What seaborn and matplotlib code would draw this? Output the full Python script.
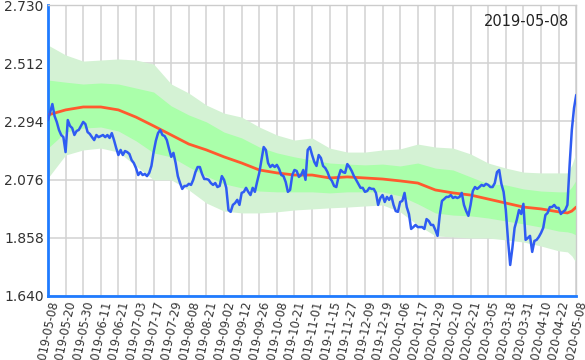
import pandas as pd
import seaborn as sns
from matplotlib import pyplot as plt

# x tick labels, one every 8 trading days
tick_labels = ['2019-05-08', '2019-05-20', '2019-05-30', '2019-06-11', '2019-06-21', '2019-07-03',
               '2019-07-17', '2019-07-29', '2019-08-08', '2019-08-21', '2019-09-02', '2019-09-12',
               '2019-09-26', '2019-10-08', '2019-10-21', '2019-11-01', '2019-11-15', '2019-11-27',
               '2019-12-09', '2019-12-19', '2020-01-06', '2020-01-17', '2020-01-29', '2020-02-10',
               '2020-02-21', '2020-03-05', '2020-03-18', '2020-03-31', '2020-04-10', '2020-04-22',
               '2020-05-08']

# daily value (blue line)
price = [2.299, 2.329, 2.359, 2.314, 2.292, 2.262, 2.243, 2.235, 2.179, 2.299,
         2.277, 2.269, 2.243, 2.258, 2.262, 2.277, 2.292, 2.284, 2.254, 2.247,
         2.235, 2.224, 2.243, 2.235, 2.239, 2.243, 2.235, 2.243, 2.232, 2.250,
         2.224, 2.194, 2.168, 2.187, 2.168, 2.183, 2.179, 2.172, 2.149, 2.138,
         2.119, 2.093, 2.104, 2.093, 2.097, 2.089, 2.101, 2.127, 2.179, 2.221,
         2.250, 2.262, 2.243, 2.239, 2.224, 2.191, 2.161, 2.176, 2.138, 2.089,
         2.063, 2.041, 2.052, 2.052, 2.060, 2.056, 2.075, 2.104, 2.123, 2.123,
         2.097, 2.078, 2.078, 2.075, 2.063, 2.056, 2.063, 2.048, 2.052, 2.089,
         2.075, 2.045, 1.962, 1.955, 1.981, 1.988, 2.000, 1.981, 2.026, 2.030,
         2.045, 2.030, 2.018, 2.045, 2.030, 2.067, 2.101, 2.149, 2.198, 2.187,
         2.138, 2.123, 2.131, 2.123, 2.131, 2.116, 2.093, 2.089, 2.067, 2.030,
         2.037, 2.093, 2.112, 2.108, 2.086, 2.093, 2.112, 2.075, 2.187, 2.198,
         2.168, 2.142, 2.127, 2.168, 2.157, 2.127, 2.119, 2.104, 2.082, 2.071,
         2.052, 2.048, 2.086, 2.112, 2.104, 2.101, 2.134, 2.123, 2.108, 2.089,
         2.075, 2.060, 2.045, 2.045, 2.030, 2.033, 2.045, 2.041, 2.041, 2.026,
         1.981, 2.007, 2.018, 1.992, 2.011, 2.000, 2.015, 1.981, 1.958, 1.955,
         1.992, 1.996, 2.026, 1.973, 1.947, 1.891, 1.898, 1.906, 1.898, 1.898,
         1.898, 1.891, 1.928, 1.921, 1.906, 1.906, 1.887, 1.865, 1.943, 1.996,
         2.003, 2.011, 2.011, 2.018, 2.007, 2.011, 2.007, 2.011, 2.026, 1.981,
         1.958, 1.940, 1.981, 2.033, 2.048, 2.041, 2.048, 2.056, 2.052, 2.060,
         2.056, 2.048, 2.048, 2.063, 2.104, 2.112, 2.060, 2.030, 1.962, 1.850,
         1.756, 1.820, 1.895, 1.925, 1.962, 1.947, 1.985, 1.850, 1.857, 1.865,
         1.805, 1.846, 1.850, 1.861, 1.876, 1.895, 1.943, 1.951, 1.973, 1.973,
         1.981, 1.970, 1.970, 1.947, 1.955, 1.962, 1.981, 2.131, 2.262, 2.344, 2.393]

# moving average and bands, read at these day positions
band_idx = [0, 8, 16, 24, 32, 40, 48, 56, 64, 72, 80, 88, 96, 104, 112, 120, 128, 136,
            144, 152, 160, 168, 176, 184, 192, 200, 208, 216, 224, 232, 236, 238, 240]
ma = [2.318, 2.337, 2.348, 2.348, 2.337, 2.310, 2.277, 2.243, 2.209, 2.187, 2.161,
      2.138, 2.112, 2.101, 2.093, 2.093, 2.082, 2.086, 2.082, 2.078, 2.071, 2.063,
      2.037, 2.026, 2.018, 2.003, 1.988, 1.973, 1.966, 1.955, 1.951, 1.958, 1.973]
outer_hi = [2.580, 2.543, 2.520, 2.524, 2.528, 2.524, 2.509, 2.434, 2.400, 2.355, 2.325,
            2.310, 2.273, 2.243, 2.224, 2.232, 2.194, 2.179, 2.179, 2.187, 2.191, 2.209,
            2.198, 2.194, 2.172, 2.138, 2.119, 2.104, 2.101, 2.101, 2.101, 2.131, 2.179]
inner_hi = [2.449, 2.441, 2.434, 2.438, 2.434, 2.419, 2.404, 2.352, 2.318, 2.292, 2.254,
            2.232, 2.198, 2.176, 2.161, 2.149, 2.138, 2.134, 2.131, 2.134, 2.127, 2.138,
            2.119, 2.112, 2.086, 2.060, 2.056, 2.041, 2.033, 2.030, 2.030, 2.048, 2.075]
inner_lo = [2.194, 2.254, 2.269, 2.273, 2.258, 2.221, 2.176, 2.161, 2.123, 2.089, 2.060,
            2.045, 2.033, 2.030, 2.030, 2.030, 2.026, 2.030, 2.030, 2.030, 2.015, 1.985,
            1.951, 1.943, 1.940, 1.932, 1.921, 1.910, 1.898, 1.883, 1.880, 1.876, 1.868]
outer_lo = [2.082, 2.168, 2.187, 2.194, 2.179, 2.127, 2.075, 2.075, 2.037, 1.988, 1.958,
            1.951, 1.951, 1.955, 1.962, 1.966, 1.970, 1.973, 1.977, 1.981, 1.955, 1.906,
            1.865, 1.861, 1.857, 1.857, 1.850, 1.842, 1.827, 1.809, 1.805, 1.790, 1.764]

y_ticks = [1.640, 1.858, 2.076, 2.294, 2.512, 2.730]

sns.set_theme(style="whitegrid")
plt.rcParams['font.family'] = ['DejaVu Sans']

fig, ax = plt.subplots(figsize=(5.85, 3.6), dpi=100)
fig.subplots_adjust(left=0.082, right=0.985, top=0.986, bottom=0.178)

ax.fill_between(band_idx, outer_lo, outer_hi, color='#d4f2d4', lw=0, zorder=1)
ax.fill_between(band_idx, inner_lo, inner_hi, color='#aaffaa', lw=0, zorder=1.5)

bands = pd.DataFrame({'day': band_idx, 'ma': ma})
sns.lineplot(data=bands, x='day', y='ma', color='#ff5a2e', lw=2.0, ax=ax, zorder=3)

df = pd.DataFrame({'day': range(len(price)), 'price': price})
sns.lineplot(data=df, x='day', y='price', color='#2f5cf2', lw=1.8, ax=ax, zorder=4)

ax.set_xlim(0, len(price) - 1)
ax.set_ylim(y_ticks[0], y_ticks[-1])
ax.set_xticks(range(0, len(price), 8))
ax.set_xticklabels(tick_labels, rotation=78, ha='right', rotation_mode='anchor',
                   fontsize=8.3, color='#333333')
ax.set_yticks(y_ticks)
ax.set_yticklabels([f'{v:.3f}' for v in y_ticks], fontsize=10, color='#333333')
ax.tick_params(axis='both', length=0, pad=3)
ax.set_xlabel('')
ax.set_ylabel('')

ax.grid(True, color='#d2d2d2', lw=1.1)
ax.set_axisbelow(True)
for side in ['left', 'bottom']:
    ax.spines[side].set_color('#1f7bff')
    ax.spines[side].set_linewidth(2)
for side in ['top', 'right']:
    ax.spines[side].set_color('#cccccc')
    ax.spines[side].set_linewidth(1)

ax.text(0.987, 0.969, '2019-05-08', transform=ax.transAxes, ha='right', va='top',
        fontsize=10.5, color='#222222')

fig.savefig('out.png', dpi=100)
